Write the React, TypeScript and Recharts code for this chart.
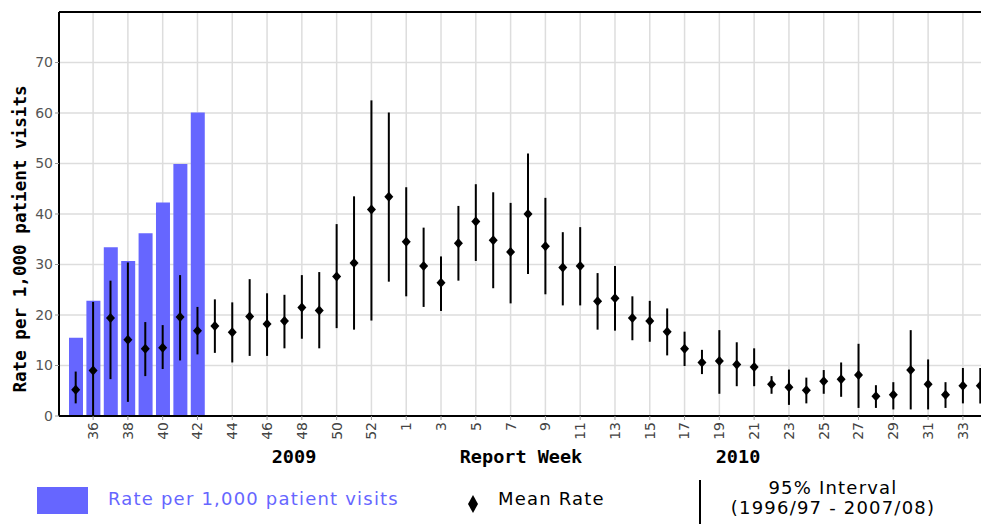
import React from 'react';
import {
  ComposedChart,
  Bar,
  Line,
  ErrorBar,
  XAxis,
  YAxis,
  CartesianGrid,
  ReferenceLine,
} from 'recharts';

// report weeks, 2009 week 35 through 2010 week 34
const weeks = [
  '35', '36', '37', '38', '39', '40', '41', '42', '43', '44', '45', '46', '47', '48', '49', '50', '51', '52', '53',
  '1', '2', '3', '4', '5', '6', '7', '8', '9', '10', '11', '12', '13', '14', '15', '16', '17', '18', '19', '20',
  '21', '22', '23', '24', '25', '26', '27', '28', '29', '30', '31', '32', '33', '34',
];

// current season rate, only reported up to week 42
const rates = [15.5, 22.8, 33.4, 30.7, 36.2, 42.3, 49.9, 60.1];

const meanRates = [
  5.2, 9.0, 19.4, 15.1, 13.3, 13.5, 19.6, 16.9, 17.8, 16.6, 19.7, 18.2, 18.8, 21.5, 20.9, 27.6, 30.3, 40.9, 43.4,
  34.5, 29.7, 26.4, 34.2, 38.5, 34.8, 32.5, 40.0, 33.6, 29.4, 29.7, 22.7, 23.3, 19.4, 18.8, 16.7, 13.3, 10.6, 10.9, 10.2,
  9.7, 6.3, 5.7, 5.1, 6.9, 7.3, 8.1, 3.9, 4.2, 9.1, 6.3, 4.2, 6.0, 6.0,
];

const intervalLow = [
  2.5, 0, 7.3, 2.8, 7.9, 9.3, 11.0, 12.2, 12.5, 10.6, 11.9, 11.9, 13.4, 15.3, 13.4, 17.4, 17.1, 18.9, 26.6,
  23.7, 21.6, 20.8, 26.8, 30.7, 25.3, 22.3, 28.1, 24.1, 21.9, 21.9, 17.1, 16.9, 15.0, 14.7, 12.0, 9.9, 8.3, 4.4, 5.9,
  5.9, 4.4, 2.2, 2.5, 4.4, 3.8, 1.6, 1.6, 1.3, 1.3, 1.3, 1.6, 2.5, 2.5,
];

const intervalHigh = [
  8.8, 22.6, 26.8, 30.4, 18.6, 18.0, 27.9, 21.6, 23.1, 22.5, 27.1, 24.3, 24.0, 27.9, 28.5, 38.0, 43.5, 62.5, 60.1,
  45.3, 37.3, 31.6, 41.6, 45.9, 44.3, 42.2, 52.0, 43.2, 36.4, 37.4, 28.3, 29.7, 23.7, 22.8, 21.3, 16.7, 13.1, 17.0, 14.6,
  13.4, 7.9, 9.2, 7.6, 9.1, 10.6, 14.3, 6.1, 6.7, 17.0, 11.2, 6.7, 9.5, 9.5,
];

const weekTicks = [
  '36', '38', '40', '42', '44', '46', '48', '50', '52',
  '1', '3', '5', '7', '9', '11', '13', '15', '17', '19', '21', '23', '25', '27', '29', '31', '33',
];
const rateTicks = [0, 10, 20, 30, 40, 50, 60, 70];

const data = weeks.map((week, i) => ({
  week,
  rate: i < rates.length ? rates[i] : null,
  mean: meanRates[i],
  err: [meanRates[i] - intervalLow[i], intervalHigh[i] - meanRates[i]],
}));

const BAR_COLOR = '#6666ff';
const SANS = '"DejaVu Sans", Verdana, sans-serif';
const MONO = '"DejaVu Sans Mono", "Liberation Mono", monospace';

const WeekTick = (props: any) => {
  const { x, y, payload } = props;
  return (
    <g transform={`translate(${x},${y})`}>
      <text transform="rotate(-90)" textAnchor="end" dy="0.35em" fontSize={14} fill="#444" fontFamily={SANS}>
        {payload.value}
      </text>
    </g>
  );
};

const Diamond = (props: any) => {
  const { cx, cy } = props;
  if (cx == null || cy == null) return null;
  return <path d={`M${cx},${cy - 5} L${cx + 4.5},${cy} L${cx},${cy + 5} L${cx - 4.5},${cy} Z`} fill="#000" />;
};

const RateLabel = (props: any) => {
  const { viewBox } = props;
  const cx = viewBox.x + 20;
  const cy = viewBox.y + viewBox.height / 2 + 25;
  return (
    <text
      x={cx}
      y={cy}
      transform={`rotate(-90, ${cx}, ${cy})`}
      textAnchor="middle"
      dominantBaseline="central"
      fontFamily={MONO}
      fontWeight="bold"
      fontSize={17.6}
      fill="#000"
    >
      Rate per 1,000 patient visits
    </text>
  );
};

const boldLabel: React.CSSProperties = {
  position: 'absolute',
  fontFamily: MONO,
  fontWeight: 'bold',
  fontSize: 18.5,
  color: '#000',
  transform: 'translateX(-50%)',
  whiteSpace: 'nowrap',
};

const legendText: React.CSSProperties = {
  position: 'absolute',
  fontFamily: SANS,
  fontSize: 18,
  letterSpacing: 1.2,
  whiteSpace: 'nowrap',
};

export default function App() {
  return (
    <div
      style={{
        position: 'fixed',
        left: 0,
        top: 0,
        width: 981,
        height: 524,
        overflow: 'hidden',
        background: '#fff',
      }}
    >
      <ComposedChart
        width={1000}
        height={524}
        data={data}
        margin={{ top: 12, right: 11, bottom: 48, left: 0 }}
        barCategoryGap={0}
      >
        <CartesianGrid stroke="#dddddd" strokeWidth={1.5} />
        <XAxis
          dataKey="week"
          ticks={weekTicks}
          interval={0}
          padding={{ left: 8, right: 0 }}
          height={60}
          tick={<WeekTick />}
          tickSize={4}
          tickLine={{ stroke: '#999' }}
          axisLine={{ stroke: '#000', strokeWidth: 2 }}
        />
        <YAxis
          domain={[0, 80]}
          ticks={rateTicks}
          width={59}
          interval={0}
          tickSize={4}
          tick={{ fontSize: 14, fill: '#555', fontFamily: SANS }}
          tickLine={{ stroke: '#999' }}
          axisLine={{ stroke: '#000', strokeWidth: 2 }}
          label={<RateLabel />}
        />
        <ReferenceLine y={80} stroke="#000" strokeWidth={2} />
        <Bar dataKey="rate" fill={BAR_COLOR} barSize={14} isAnimationActive={false} />
        <Line
          dataKey="mean"
          stroke="none"
          strokeWidth={0}
          dot={<Diamond />}
          activeDot={false}
          isAnimationActive={false}
        >
          <ErrorBar dataKey="err" width={0} stroke="#000" strokeWidth={2} direction="y" />
        </Line>
      </ComposedChart>

      <div style={{ ...boldLabel, left: 294, top: 446 }}>2009</div>
      <div style={{ ...boldLabel, left: 521, top: 446 }}>Report Week</div>
      <div style={{ ...boldLabel, left: 738, top: 446 }}>2010</div>

      <div style={{ position: 'absolute', left: 37, top: 487, width: 51, height: 27, background: BAR_COLOR }} />
      <div style={{ ...legendText, left: 108, top: 488, color: BAR_COLOR }}>Rate per 1,000 patient visits</div>
      <svg style={{ position: 'absolute', left: 467, top: 495 }} width={12} height={18}>
        <path d="M6,0 L11,9 L6,18 L1,9 Z" fill="#000" />
      </svg>
      <div style={{ ...legendText, left: 498, top: 488, color: '#000' }}>Mean Rate</div>
      <div style={{ position: 'absolute', left: 699, top: 480, width: 1.5, height: 44, background: '#000' }} />
      <div
        style={{
          ...legendText,
          left: 833,
          top: 478,
          transform: 'translateX(-50%)',
          lineHeight: '20px',
          color: '#000',
          textAlign: 'center',
        }}
      >
        95% Interval
        <br />
        (1996/97 - 2007/08)
      </div>
    </div>
  );
}
